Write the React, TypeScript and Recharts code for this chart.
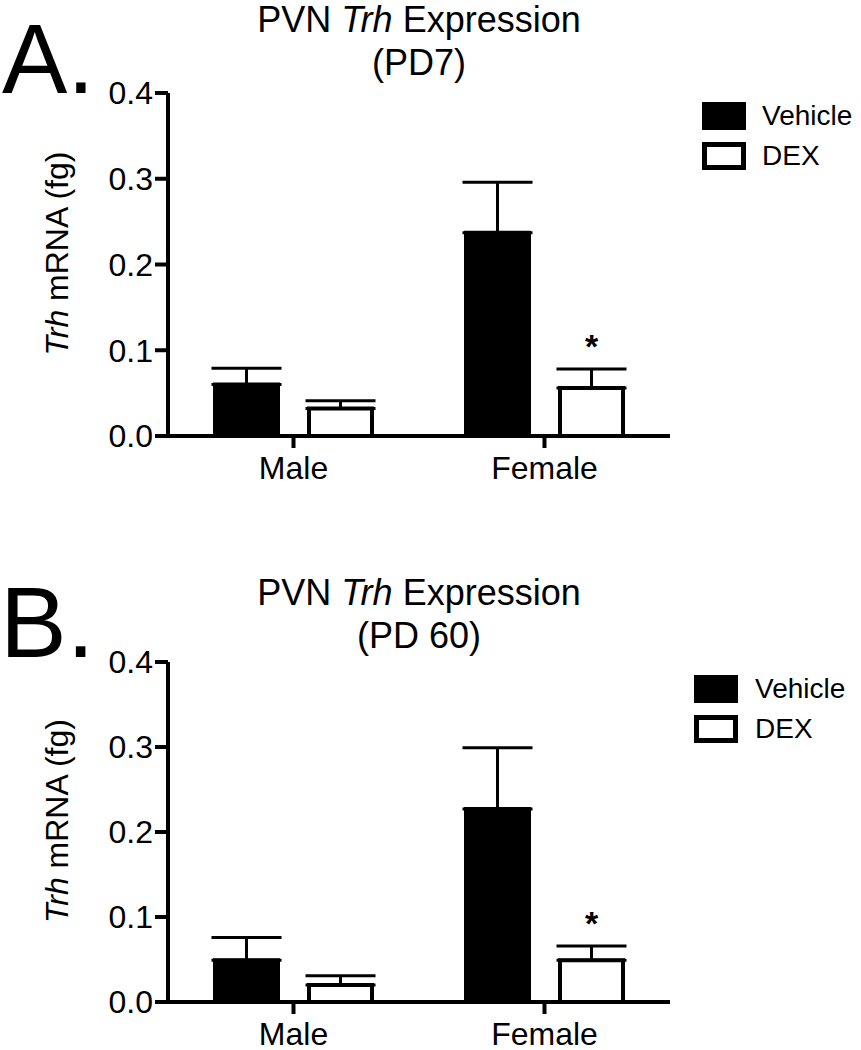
import React from 'react';
import {
  BarChart,
  Bar,
  XAxis,
  YAxis,
  ErrorBar,
  Legend,
  LabelList,
  Label
} from 'recharts';

// values (fg)
const categories = ['Male', 'Female'];
const seriesNames = ['Vehicle', 'DEX'];
const significant = [false, true];
const yTicks = [0, 0.1, 0.2, 0.3, 0.4];

const pd7Vehicle = [0.06, 0.237];
const pd7VehicleSem = [0.019, 0.059];
const pd7Dex = [0.032, 0.056];
const pd7DexSem = [0.009, 0.022];

const pd60Vehicle = [0.049, 0.227];
const pd60VehicleSem = [0.027, 0.072];
const pd60Dex = [0.02, 0.049];
const pd60DexSem = [0.011, 0.017];

const FONT = '"Liberation Sans", Arial, Helvetica, sans-serif';

type Row = { name: string; Vehicle: number; DEX: number; vehErr: number[]; dexErr: number[] };

const buildRows = (veh: number[], vehSem: number[], dex: number[], dexSem: number[]): Row[] =>
  categories.map((name, i) => ({
    name,
    Vehicle: veh[i],
    DEX: dex[i],
    vehErr: [0, vehSem[i]],
    dexErr: [0, dexSem[i]]
  }));

const LegendBoxes = (props: any) => {
  const { payload, gap } = props;
  const items = [...(payload || [])].sort(
    (a: any, b: any) => seriesNames.indexOf(a.value) - seriesNames.indexOf(b.value)
  );
  return (
    <div style={{ fontFamily: FONT }}>
      {items.map((e: any) => (
        <div key={e.value} style={{ display: 'flex', alignItems: 'center', height: 40 }}>
          <span
            style={{
              display: 'inline-block',
              width: 44,
              height: 28,
              boxSizing: 'border-box',
              background: e.value === 'Vehicle' ? '#000' : '#fff',
              border: '5px solid #000'
            }}
          />
          <span style={{ marginLeft: gap, fontSize: 28, color: '#000', lineHeight: '28px' }}>{e.value}</span>
        </div>
      ))}
    </div>
  );
};

const YTitle = (props: any) => {
  const vb = props.viewBox || {};
  const cy = (vb.y ?? 0) + (vb.height ?? 0) / 2 - 11;
  return (
    <text
      x={57}
      y={cy}
      transform={`rotate(-90, 57, ${cy})`}
      textAnchor="middle"
      dominantBaseline="central"
      fontSize={32}
      fill="#000"
    >
      <tspan fontStyle="italic">Trh</tspan> mRNA (fg)
    </text>
  );
};

const makeStar = (sem: number[]) => (props: any) => {
  const box = props.viewBox || props;
  const { x, y, width, height } = box;
  const index = props.index;
  const value = Number(props.value);
  if (index == null || !significant[index] || !value) return null;
  const capY = y - sem[index] * (height / value);
  return (
    <text x={x + width / 2} y={capY - 11} textAnchor="middle" fontSize={34} fontWeight="bold" fill="#000">
      *
    </text>
  );
};

type PanelProps = {
  rows: Row[];
  dexSem: number[];
  top: number;
  height: number;
  marginTop: number;
  marginBottom: number;
  xAxisHeight: number;
  legendLeft: number;
  legendTop: number;
  legendGap: number;
};

const Panel: React.FC<PanelProps> = ({
  rows, dexSem, top, height, marginTop, marginBottom, xAxisHeight, legendLeft, legendTop, legendGap
}) => (
  <div style={{ position: 'absolute', left: 0, top, width: 861, height }}>
    <BarChart
      width={861}
      height={height}
      data={rows}
      margin={{ top: marginTop, right: 191, left: 68, bottom: marginBottom }}
      barSize={63}
      barGap={31}
    >
      <XAxis
        dataKey="name"
        height={xAxisHeight}
        axisLine={{ stroke: '#000', strokeWidth: 4 }}
        tickLine={{ stroke: '#000', strokeWidth: 4 }}
        tickSize={12}
        tickMargin={8}
        tick={{ fontSize: 32, fill: '#000' }}
      />
      <YAxis
        type="number"
        width={100}
        domain={[0, 0.4]}
        ticks={yTicks}
        interval={0}
        tickFormatter={(v: number) => v.toFixed(1)}
        axisLine={{ stroke: '#000', strokeWidth: 4 }}
        tickLine={{ stroke: '#000', strokeWidth: 4 }}
        tickSize={13}
        tickMargin={2}
        tick={{ fontSize: 32, fill: '#000' }}
      >
        <Label content={YTitle} />
      </YAxis>
      <Legend
        layout="vertical"
        align="center"
        verticalAlign="middle"
        content={<LegendBoxes gap={legendGap} />}
        wrapperStyle={{ left: legendLeft, top: legendTop, width: 'auto', height: 'auto' }}
      />
      <Bar dataKey="Vehicle" fill="#000" stroke="#000" strokeWidth={4} isAnimationActive={false}>
        <ErrorBar dataKey="vehErr" width={35} strokeWidth={3} stroke="#000" direction="y" />
      </Bar>
      <Bar dataKey="DEX" fill="#fff" stroke="#000" strokeWidth={4} isAnimationActive={false}>
        <ErrorBar dataKey="dexErr" width={35} strokeWidth={3} stroke="#000" direction="y" />
        <LabelList dataKey="DEX" content={makeStar(dexSem)} />
      </Bar>
    </BarChart>
  </div>
);

const App: React.FC = () => {
  const pd7Rows = buildRows(pd7Vehicle, pd7VehicleSem, pd7Dex, pd7DexSem);
  const pd60Rows = buildRows(pd60Vehicle, pd60VehicleSem, pd60Dex, pd60DexSem);

  return (
    <div style={{ position: 'absolute', left: 0, top: 0, width: 861, height: 1050, background: '#fff', fontFamily: FONT }}>
      <Panel
        rows={pd7Rows}
        dexSem={pd7DexSem}
        top={0}
        height={520}
        marginTop={93}
        marginBottom={24}
        xAxisHeight={60}
        legendLeft={702}
        legendTop={96}
        legendGap={16}
      />
      <Panel
        rows={pd60Rows}
        dexSem={pd60DexSem}
        top={520}
        height={548}
        marginTop={142}
        marginBottom={0}
        xAxisHeight={66}
        legendLeft={694}
        legendTop={149}
        legendGap={17}
      />
      <svg
        width={861}
        height={1050}
        style={{ position: 'absolute', left: 0, top: 0, pointerEvents: 'none' }}
      >
        <text x={2} y={93} fontSize={98} fill="#000">A.</text>
        <text x={419} y={32} textAnchor="middle" fontSize={36} fill="#000">
          PVN <tspan fontStyle="italic">Trh</tspan> Expression
        </text>
        <text x={419} y={75} textAnchor="middle" fontSize={36} fill="#000">(PD7)</text>

        <text x={0} y={657} fontSize={100} fill="#000">B.</text>
        <text x={419} y={605} textAnchor="middle" fontSize={36} fill="#000">
          PVN <tspan fontStyle="italic">Trh</tspan> Expression
        </text>
        <text x={419} y={648} textAnchor="middle" fontSize={36} fill="#000">(PD 60)</text>
      </svg>
    </div>
  );
};

export default App;
